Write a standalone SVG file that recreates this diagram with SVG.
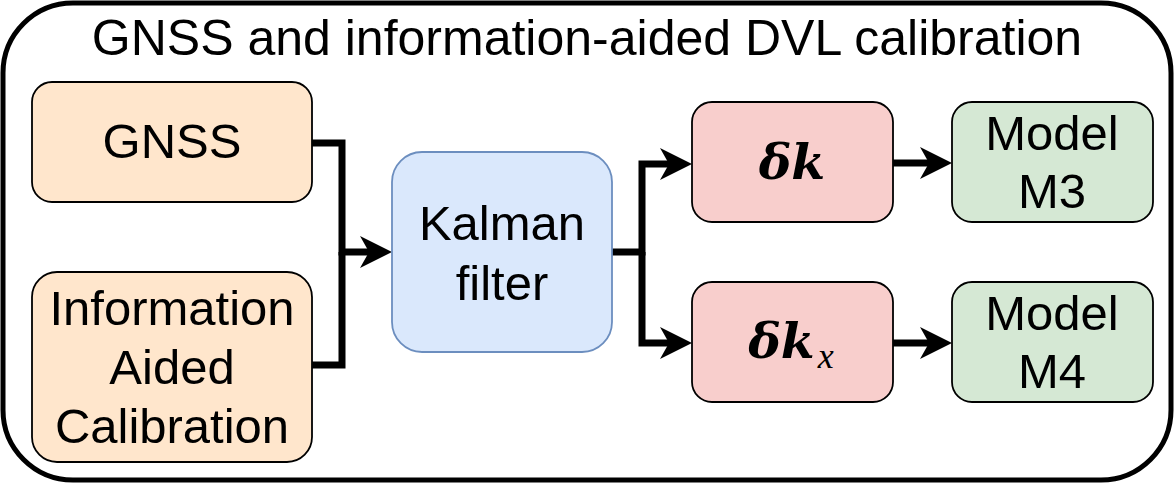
<svg xmlns="http://www.w3.org/2000/svg" width="1175" height="485" viewBox="0 0 1175 485">
<defs>
<style>
.frame{fill:#fff;stroke:#000;stroke-width:5}
.orange{fill:#ffe6cc;stroke:#000;stroke-width:1.8}
.blue{fill:#dae8fc;stroke:#6c8ebf;stroke-width:1.8}
.red{fill:#f8cecc;stroke:#000;stroke-width:1.8}
.green{fill:#d5e8d4;stroke:#000;stroke-width:1.8}
.t{font-family:"Liberation Sans",Arial,sans-serif;font-size:49px;fill:#000;text-anchor:middle}
.title{font-size:50px}
.m{font-family:"DejaVu Serif","Liberation Serif",serif;font-size:49px;font-weight:bold;font-style:italic;fill:#000;text-anchor:middle}
.sub{font-family:"Liberation Serif",serif;font-size:36px;font-style:italic;font-weight:normal}
.c{fill:none;stroke:#000;stroke-width:7;stroke-linejoin:miter;stroke-linecap:butt}
</style>
<marker id="arr" viewBox="0 0 32 32" refX="9" refY="16" markerWidth="32" markerHeight="32" markerUnits="userSpaceOnUse" orient="auto">
<path d="M0,0 L32,16 L0,32 L9,16 Z" fill="#000"/>
</marker>
</defs>
<g id="frame">
<rect class="frame" x="3" y="3" width="1168" height="477" rx="70" ry="70"/>
<text class="t title" x="587" y="55">GNSS and information-aided DVL calibration</text>
</g>
<g id="connectors">
<path class="c" d="M312,143 H342 V252 H369" marker-end="url(#arr)"/>
<path class="c" d="M312,365 H342 V252"/>
<path class="c" d="M612,252 H642 V164 H669" marker-end="url(#arr)"/>
<path class="c" d="M642,252 V343 H669" marker-end="url(#arr)"/>
<path class="c" d="M893,163 H929" marker-end="url(#arr)"/>
<path class="c" d="M893,343 H929" marker-end="url(#arr)"/>
</g>
<g id="gnss">
<rect class="orange" x="32" y="82" width="280" height="120" rx="20" ry="20"/>
<text class="t" x="172" y="158">GNSS</text>
</g>
<g id="info">
<rect class="orange" x="32" y="272" width="280" height="190" rx="25" ry="25"/>
<text class="t" x="172" y="325">Information</text>
<text class="t" x="172" y="384">Aided</text>
<text class="t" x="172" y="443">Calibration</text>
</g>
<g id="kalman">
<rect class="blue" x="392" y="152" width="220" height="200" rx="30" ry="30"/>
<text class="t" x="502" y="240">Kalman</text>
<text class="t" x="502" y="300">filter</text>
</g>
<g id="dk">
<rect class="red" x="692" y="102" width="201" height="120" rx="20" ry="20"/>
<text class="m" x="792" y="179">δk</text>
</g>
<g id="dkx">
<rect class="red" x="692" y="282" width="201" height="120" rx="20" ry="20"/>
<text class="m" x="791" y="358">δk<tspan class="sub" dx="3" dy="10">x</tspan></text>
</g>
<g id="m3">
<rect class="green" x="952" y="102" width="201" height="120" rx="20" ry="20"/>
<text class="t" x="1052" y="150">Model</text>
<text class="t" x="1052" y="208">M3</text>
</g>
<g id="m4">
<rect class="green" x="952" y="282" width="201" height="120" rx="20" ry="20"/>
<text class="t" x="1052" y="330">Model</text>
<text class="t" x="1052" y="388">M4</text>
</g>
</svg>
